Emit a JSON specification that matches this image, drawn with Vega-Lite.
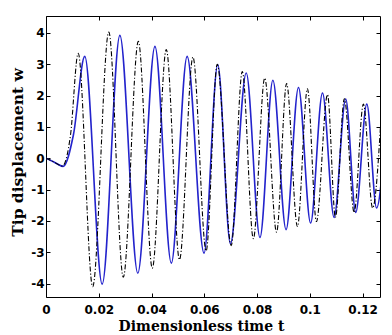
{
  "$schema": "https://vega.github.io/schema/vega-lite/v6.json",
  "width": 334,
  "height": 281,
  "autosize": {"type": "none"},
  "padding": {"left": 46, "top": 16, "right": 12, "bottom": 38},
  "background": "white",
  "config": {
    "view": {"stroke": "black", "strokeWidth": 1},
    "axis": {
      "domain": false,
      "grid": false,
      "ticks": true,
      "tickColor": "black",
      "tickSize": -4,
      "tickWidth": 1,
      "labelFont": "DejaVu Sans",
      "labelFontWeight": "bold",
      "labelFontSize": 12,
      "labelColor": "black",
      "labelFlush": false,
      "labelOverlap": false,
      "titleFont": "DejaVu Serif",
      "titleFontWeight": "bold",
      "titleFontSize": 14,
      "titleColor": "black"
    }
  },
  "datasets": {
    "blue": [
      {"t": 0, "w": 0},
      {"t": 0.003, "w": -0.12},
      {"t": 0.0065, "w": -0.26},
      {"t": 0.0104, "w": 0.75},
      {"t": 0.0147, "w": 3.25},
      {"t": 0.0213, "w": -4.02},
      {"t": 0.028, "w": 3.92},
      {"t": 0.0348, "w": -3.67},
      {"t": 0.0413, "w": 3.57},
      {"t": 0.0475, "w": -3.35},
      {"t": 0.0535, "w": 3.25},
      {"t": 0.0599, "w": -3.03},
      {"t": 0.0651, "w": 2.99},
      {"t": 0.0699, "w": -2.73},
      {"t": 0.0759, "w": 2.72},
      {"t": 0.0811, "w": -2.53},
      {"t": 0.086, "w": 2.49},
      {"t": 0.091, "w": -2.28},
      {"t": 0.0957, "w": 2.26},
      {"t": 0.1003, "w": -2.07},
      {"t": 0.1048, "w": 2.08},
      {"t": 0.1092, "w": -1.89},
      {"t": 0.1136, "w": 1.89},
      {"t": 0.1174, "w": -1.73},
      {"t": 0.1216, "w": 1.73},
      {"t": 0.1253, "w": -1.59},
      {"t": 0.1292, "w": 1.55}
    ],
    "black": [
      {"t": 0, "w": 0},
      {"t": 0.003, "w": -0.12},
      {"t": 0.0062, "w": -0.25},
      {"t": 0.0093, "w": 0.75},
      {"t": 0.0122, "w": 3.35},
      {"t": 0.0177, "w": -4.1},
      {"t": 0.0238, "w": 4.03},
      {"t": 0.0293, "w": -3.8},
      {"t": 0.035, "w": 3.73},
      {"t": 0.0403, "w": -3.51},
      {"t": 0.0456, "w": 3.47},
      {"t": 0.0506, "w": -3.24},
      {"t": 0.0557, "w": 3.23},
      {"t": 0.0607, "w": -2.96},
      {"t": 0.0649, "w": 3.0},
      {"t": 0.0702, "w": -2.79},
      {"t": 0.0744, "w": 2.77},
      {"t": 0.0786, "w": -2.57},
      {"t": 0.0829, "w": 2.56},
      {"t": 0.0874, "w": -2.36},
      {"t": 0.0912, "w": 2.38},
      {"t": 0.0953, "w": -2.18},
      {"t": 0.0991, "w": 2.22},
      {"t": 0.1025, "w": -2.02},
      {"t": 0.1067, "w": 2.03},
      {"t": 0.1097, "w": -1.89},
      {"t": 0.1131, "w": 1.9},
      {"t": 0.1168, "w": -1.73},
      {"t": 0.1203, "w": 1.73},
      {"t": 0.1238, "w": -1.59},
      {"t": 0.1272, "w": 1.6}
    ]
  },
  "layer": [
    {
      "data": {"name": "blue"},
      "mark": {"type": "line", "color": "#2323cc", "strokeWidth": 1.6, "interpolate": "monotone", "clip": true},
      "encoding": {
        "x": {
          "field": "t", "type": "quantitative",
          "scale": {"domain": [0, 0.1266], "nice": false, "zero": false},
          "axis": {
            "orient": "bottom",
            "values": [0, 0.02, 0.04, 0.06, 0.08, 0.1, 0.12],
            "format": "~g",
            "labelPadding": 11,
            "title": "Dimensionless time t",
            "titleX": 155,
            "titleY": 22,
            "titleBaseline": "top"
          }
        },
        "y": {
          "field": "w", "type": "quantitative",
          "scale": {"domain": [-4.43, 4.54], "nice": false, "zero": false},
          "axis": {
            "orient": "left",
            "values": [-4, -3, -2, -1, 0, 1, 2, 3, 4],
            "labelExpr": "datum.value < 0 ? '-' + abs(datum.value) : '' + datum.value",
            "labelPadding": 6,
            "title": "Tip displacement w",
            "titleFontSize": 15.5,
            "titleY": 136,
            "titlePadding": 5
          }
        }
      }
    },
    {
      "data": {"name": "black"},
      "mark": {"type": "line", "color": "black", "strokeWidth": 1.1, "strokeDash": [5, 2, 1.2, 2], "interpolate": "monotone", "clip": true},
      "encoding": {
        "x": {
          "field": "t", "type": "quantitative",
          "scale": {"domain": [0, 0.1266], "nice": false, "zero": false},
          "axis": {"orient": "top", "values": [0, 0.02, 0.04, 0.06, 0.08, 0.1, 0.12], "labels": false, "title": null}
        },
        "y": {
          "field": "w", "type": "quantitative",
          "scale": {"domain": [-4.43, 4.54], "nice": false, "zero": false},
          "axis": {"orient": "right", "values": [-4, -3, -2, -1, 0, 1, 2, 3, 4], "labels": false, "title": null}
        }
      }
    }
  ],
  "resolve": {"axis": {"x": "independent", "y": "independent"}}
}
